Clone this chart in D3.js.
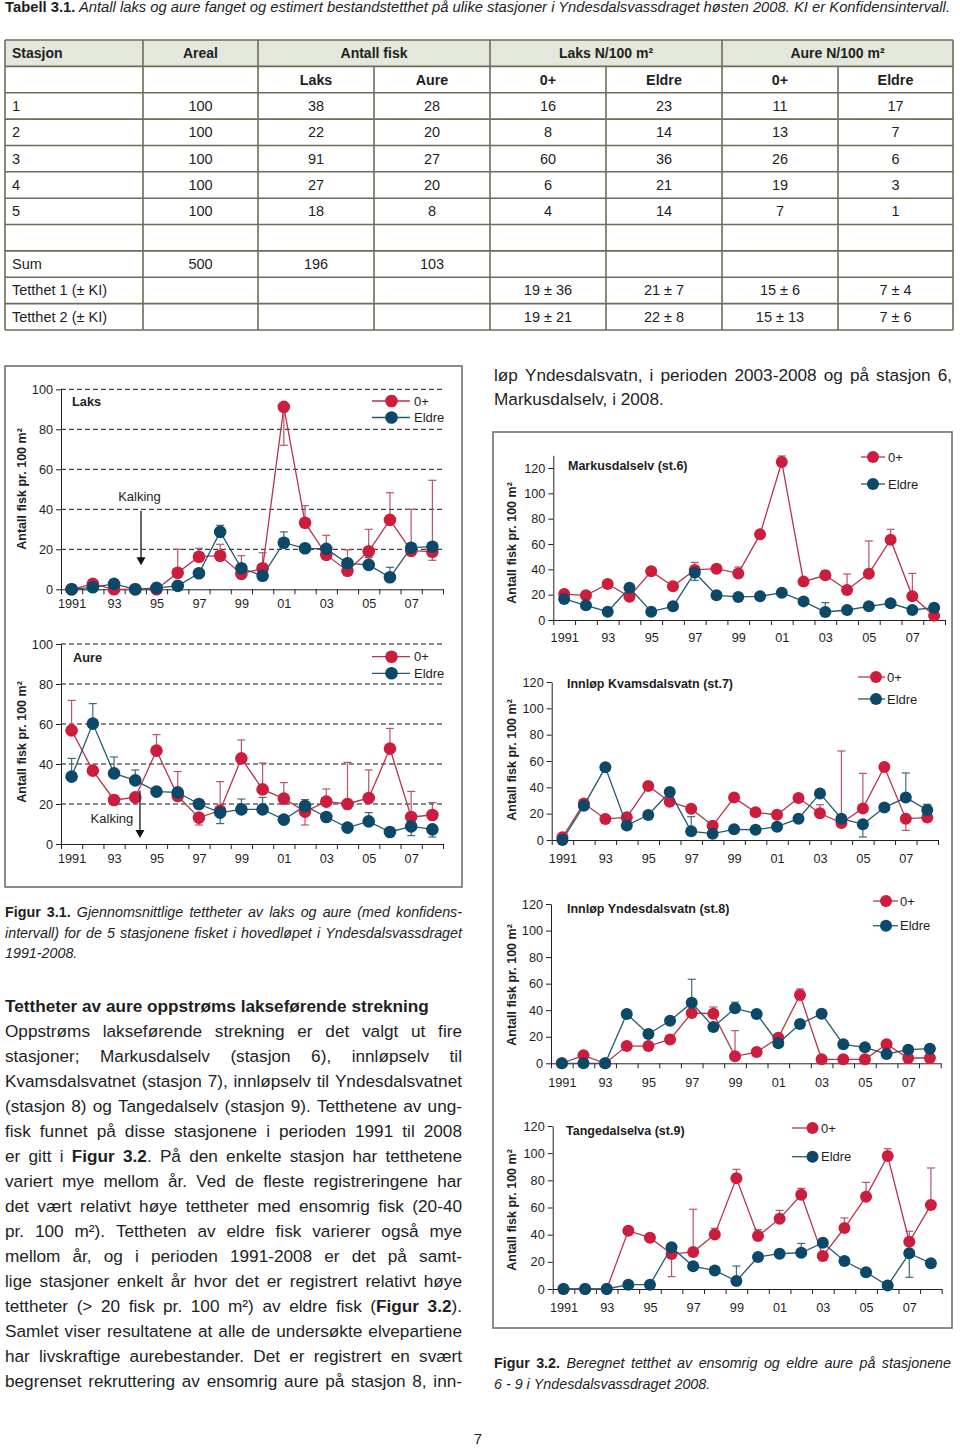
<!DOCTYPE html>
<html><head><meta charset="utf-8">
<script src="https://cdn.jsdelivr.net/npm/d3@7"></script>
<style>
body{margin:0;background:#fff}
svg{display:block}
text{font-family:"Liberation Sans",Arial,Helvetica,sans-serif;fill:#1e1e1e}
</style>
</head><body>
<svg id="page" width="960" height="1448"></svg>
<script>
// ---------------- DATA ----------------
const years = [1991,1992,1993,1994,1995,1996,1997,1998,1999,2000,2001,2002,2003,2004,2005,2006,2007,2008];
const xLabelYears = [1991,1993,1995,1997,1999,2001,2003,2005,2007];
const xLabels = ["1991","93","95","97","99","01","03","05","07"];
const yTicksLeft = [0,20,40,60,80,100];
const yTicksRight = [0,20,40,60,80,100,120];
const seriesNames = ["0+","Eldre"];

// Figur 3.1 – Laks
const laksYngre = [0,2.7,0,0,0,8.3,16.3,16.8,7.7,10.5,91.2,33.3,17.2,9.3,19,34.7,19.3,18.8];
const laksEldre = [0,1,2.7,0,0.7,1.7,8,28.7,10.5,6.8,23.3,20.5,20.2,13,12.2,6,20.8,21.3];
const laksYngreErr = [null,null,null,null,null,[8.3,20],[16.3,20.5],[16.8,22.5],[7.7,16.8],[10.5,18.3],[72,91.2],[33.3,41.8],[17.2,27],[9.3,19.7],[19,30],[34.7,48.3],[17,40],[14.5,54.5]];
const laksEldreErr = [null,null,null,null,null,null,null,[28.7,32],null,null,[23.3,28.7],[20.5,22],null,[13,15],[12.2,15.8],[6,11],null,[21.3,22.5]];
// Figur 3.1 – Aure
const aureYngre = [56.8,36.7,22,23.3,46.7,24,13.2,16.7,42.8,27.3,22.7,16.2,21.2,20,23,47.7,13.5,14.5];
const aureEldre = [33.7,60.2,35.3,31.8,26.2,25.8,20,15.7,17.3,17.3,12.2,19,13.5,8.2,11.3,6,8.8,7.3];
const aureYngreErr = [[56.8,71.8],null,null,null,[46.7,54.7],[24,36.2],[9.5,13.2],[16.7,31.2],[42.8,52],[27.3,40.5],[22.7,30.7],[9.5,16.2],[21.2,27.5],[20,40.8],[23,37],[47.7,57.8],[13.5,26.3],[14.5,20.7]];
const aureEldreErr = [[33.7,42.8],[60.2,70.2],[35.3,43.5],[31.8,37],null,null,null,[10.2,15.7],[17.3,22.5],[17.3,23.3],null,[19,22.2],null,null,[11.3,15.7],null,[4.2,8.8],[3.5,7.3]];
// Figur 3.2 – st.6 Markusdalselv
const st6Yngre = [20.5,19.5,28.4,18.4,38.4,26.6,39.5,40.5,36.8,67.6,124.7,30.3,35.3,23.7,36.6,63.4,18.7,3.4];
const st6Eldre = [16.6,11.6,6.6,25.5,6.6,10.8,37.4,19.5,18.2,18.7,21.6,14.7,6.3,7.9,10.8,13.2,7.9,9.7];
const st6YngreErr = [null,null,null,null,null,null,[39.5,45.5],[40.5,42.6],[36.8,41.8],null,[124.7,129.5],null,[35.3,39],[23.7,36.3],[36.6,62.4],[63.4,71.6],[18.7,36.8],null];
const st6EldreErr = [null,null,null,null,null,null,[31.3,37.4],null,null,null,null,null,[6.3,13.7],null,null,null,null,null];
// st.7 Innløp Kvamsdalsvatn
const st7Yngre = [2,27.8,16,17.2,41,29.1,23.8,10.9,32.2,21,19.2,31.9,20.3,12.9,24,55.4,16.2,17];
const st7Eldre = [0,26.1,55.2,11.1,19,36.5,6.6,4.8,8.1,7.8,10.1,16.2,35.4,16.2,11.9,24.6,32.2,22.8];
const st7YngreErr = [null,null,null,null,null,null,null,null,null,null,null,null,[20.3,26.8],[12.9,67.6],[24,50.6],[55.4,58],[7.3,16.2],null];
const st7EldreErr = [null,null,null,null,null,null,[6.6,17.7],null,null,null,null,null,null,null,[2.3,11.9],null,[32.2,50.9],[22.8,27.1]];
// st.8 Innløp Yndesdalsvatn
const st8Yngre = [0,6,0,13,13,18,37.9,37.4,5.3,8.5,19.3,51.5,3,3,3,14.3,4,4];
const st8Eldre = [0,0,0,37.2,22.1,32.1,45.7,27.4,41.4,37.2,15.1,29.6,37.4,14.3,12,7,10.3,11];
const st8YngreErr = [null,null,null,null,null,null,null,[37.4,42.4],[5.3,24.6],null,null,[51.5,56],null,null,null,null,null,null];
const st8EldreErr = [null,null,null,null,null,null,[45.7,63.3],null,[41.4,46],null,null,null,null,null,null,null,null,null];
// st.9 Tangedalselva
const st9Yngre = [0,0,0,42.9,37.8,25.8,27.2,40.2,81.5,39,51.8,69.4,24.3,44.9,68,97.9,34.8,61.8];
const st9Eldre = [0,0,0,3.2,3.2,30.7,16.7,13.7,5.9,23.6,26,26.7,34.1,20.6,12.3,2.5,26.3,18.9];
const st9YngreErr = [null,null,null,null,null,[9.1,25.8],[27.2,58.7],[40.2,44.7],[81.5,88.1],[39,43.7],[51.8,57.9],[69.4,74.1],[20.9,24.3],[44.9,52.3],[68,78.5],[97.9,103.3],[34.8,42.5],[61.8,89.1]];
const st9EldreErr = [null,null,null,null,null,null,null,[13.7,16.4],[5.9,16.9],null,null,[26.7,33.6],null,null,null,null,[8.6,26.3],null];

// Tabell 3.1
const tabHead1 = ["Stasjon","Areal","Antall fisk","Laks N/100 m²","Aure N/100 m²"];
const tabHead2 = ["","","Laks","Aure","0+","Eldre","0+","Eldre"];
const tabStasjon = ["1","2","3","4","5","","Sum","Tetthet 1 (± KI)","Tetthet 2 (± KI)"];
const tabAreal = ["100","100","100","100","100","","500","",""];
const tabAntLaks = ["38","22","91","27","18","","196","",""];
const tabAntAure = ["28","20","27","20","8","","103","",""];
const tabLaks0 = ["16","8","60","6","4","","","19 ± 36","19 ± 21"];
const tabLaksEldre = ["23","14","36","21","14","","","21 ± 7","22 ± 8"];
const tabAure0 = ["11","13","26","19","7","","","15 ± 6","15 ± 13"];
const tabAureEldre = ["17","7","6","3","1","","","7 ± 4","7 ± 6"];

// Texts
const tableTitle = "**Tabell 3.1.** Antall laks og aure fanget og estimert bestandstetthet på ulike stasjoner i Yndesdalsvassdraget høsten 2008. KI er Konfidensintervall.";
const fig31Caption = ["**Figur 3.1.** Gjennomsnittlige tettheter av laks og aure (med konfidens-","intervall) for de 5 stasjonene fisket i hovedløpet i Yndesdalsvassdraget","1991-2008."];
const fig32Caption = ["**Figur 3.2.** Beregnet tetthet av ensomrig og eldre aure på stasjonene","6 - 9 i Yndesdalsvassdraget 2008."];
const heading = "Tettheter av aure oppstrøms lakseførende strekning";
const bodyLeft = [
 "Oppstrøms lakseførende strekning er det valgt ut fire",
 "stasjoner; Markusdalselv (stasjon 6), innløpselv til",
 "Kvamsdalsvatnet (stasjon 7), innløpselv til Yndesdalsvatnet",
 "(stasjon 8) og Tangedalselv (stasjon 9). Tetthetene av ung-",
 "fisk funnet på disse stasjonene i perioden 1991 til 2008",
 "er gitt i **Figur 3.2**. På den enkelte stasjon har tetthetene",
 "variert mye mellom år. Ved de fleste registreringene har",
 "det vært relativt høye tettheter med ensomrig fisk (20-40",
 "pr. 100 m²). Tettheten av eldre fisk varierer også mye",
 "mellom år, og i perioden 1991-2008 er det på samt-",
 "lige stasjoner enkelt år hvor det er registrert relativt høye",
 "tettheter (> 20 fisk pr. 100 m²) av eldre fisk (**Figur 3.2**).",
 "Samlet viser resultatene at alle de undersøkte elvepartiene",
 "har livskraftige aurebestander. Det er registrert en svært",
 "begrenset rekruttering av ensomrig aure på stasjon 8, inn-"
];
const bodyRight = ["løp Yndesdalsvatn, i perioden 2003-2008 og på stasjon 6,","Markusdalselv, i 2008."];

// ---------------- DRAWING ----------------
const svg = d3.select("#page");
const RED = "#cc1d3d", RED_L = "#b8334f", RED_E = "#b9546b";
const BLUE = "#0c4867", BLUE_L = "#245a6d", BLUE_E = "#3c6b7c";
const AX = "#222";

function parseWords(line){
  const words=[]; let cur=[]; let buf=""; let bold=false;
  for(let i=0;i<line.length;i++){
    if(line.substr(i,2)==="**"){ if(buf){cur.push({t:buf,b:bold});buf="";} bold=!bold; i++; continue; }
    const ch=line[i];
    if(ch===" "){ if(buf){cur.push({t:buf,b:bold});buf="";} if(cur.length){words.push(cur);cur=[];} continue; }
    buf+=ch;
  }
  if(buf) cur.push({t:buf,b:bold});
  if(cur.length) words.push(cur);
  return words;
}
function textLine(g, line, o){
  const words=parseWords(line);
  const els=words.map(w=>{
    const t=g.append("text").attr("y",o.y).attr("font-size",o.size);
    w.forEach(s=>t.append("tspan").text(s.t)
      .attr("font-weight",(s.b||o.bold)?"bold":"normal")
      .attr("font-style",s.b?"normal":(o.italic?"italic":"normal")));
    return t;
  });
  const widths=els.map(t=>t.node().getComputedTextLength());
  const total=d3.sum(widths);
  const sp=o.size*0.278;
  let gap=sp;
  if(o.justify && words.length>1) gap=(o.x1-o.x0-total)/(words.length-1);
  let x=o.x0;
  els.forEach((t,i)=>{t.attr("x",x); x+=widths[i]+gap;});
}

// Table title (fitted to width)
(function(){
  const words=parseWords(tableTitle);
  const t=svg.append("text").attr("x",5).attr("y",12).attr("font-size",14.2)
    .attr("textLength",945).attr("lengthAdjust","spacingAndGlyphs");
  words.forEach((w,i)=>{ w.forEach((s,j)=>{
    t.append("tspan").text((i>0&&j===0?" ":"")+s.t)
     .attr("font-weight",s.b?"bold":"normal").attr("font-style",s.b?"normal":"italic");
  });});
})();

// Table
(function(){
  const colX=[5,143,258,374,490,606,722,838,953];
  const y0=40, rh=290/11;
  const g=svg.append("g");
  g.append("rect").attr("x",colX[0]).attr("y",y0).attr("width",colX[8]-colX[0]).attr("height",rh).attr("fill","#e3e7dc");
  const ln="#6c6c5a";
  for(let r=0;r<=11;r++) g.append("line").attr("x1",colX[0]).attr("x2",colX[8]).attr("y1",y0+r*rh).attr("y2",y0+r*rh).attr("stroke",ln).attr("stroke-width",1.6);
  [0,1,2,4,6,8].forEach(c=>g.append("line").attr("x1",colX[c]).attr("x2",colX[c]).attr("y1",y0).attr("y2",y0+11*rh).attr("stroke",ln).attr("stroke-width",1.6));
  [3,5,7].forEach(c=>g.append("line").attr("x1",colX[c]).attr("x2",colX[c]).attr("y1",y0+rh).attr("y2",y0+11*rh).attr("stroke",ln).attr("stroke-width",1.6));
  const spans=[[0,1],[1,2],[2,4],[4,6],[6,8]];
  tabHead1.forEach((h,i)=>{
    const [a,b]=spans[i];
    g.append("text").attr("x",i===0?12:(colX[a]+colX[b])/2).attr("y",y0+rh/2+5)
     .attr("text-anchor",i===0?"start":"middle").attr("font-weight","bold").attr("font-size",14).text(h);
  });
  tabHead2.forEach((h,i)=>{ if(!h) return;
    g.append("text").attr("x",(colX[i]+colX[i+1])/2).attr("y",y0+1.5*rh+5)
     .attr("text-anchor","middle").attr("font-weight","bold").attr("font-size",14.3).text(h);
  });
  const cols=[tabStasjon,tabAreal,tabAntLaks,tabAntAure,tabLaks0,tabLaksEldre,tabAure0,tabAureEldre];
  cols.forEach((col,ci)=>col.forEach((v,ri)=>{ if(!v) return;
    g.append("text").attr("x",ci===0?12:(colX[ci]+colX[ci+1])/2).attr("y",y0+(ri+2.5)*rh+5)
     .attr("text-anchor",ci===0?"start":"middle").attr("font-size",14.5).text(v);
  }));
})();

// Figure boxes
svg.append("rect").attr("x",5).attr("y",366).attr("width",457).attr("height",521).attr("fill","none").attr("stroke","#707070").attr("stroke-width",1.6);
svg.append("rect").attr("x",493).attr("y",432).attr("width",459).attr("height",896).attr("fill","none").attr("stroke","#707070").attr("stroke-width",1.6);

function chart(c){
  const g=svg.append("g");
  const xs=d3.scaleLinear().domain([years[0]-0.5,years[years.length-1]+0.5]).range([c.x0,c.x1]);
  const y=d3.scaleLinear().domain([0,c.ymax]).range([c.y0,c.yTopPx]);
  if(c.grid){
    g.selectAll(".grid").data(c.yticks.filter(d=>d>0)).join("line")
     .attr("x1",c.x0).attr("x2",c.x1).attr("y1",d=>y(d)).attr("y2",d=>y(d))
     .attr("stroke","#111").attr("stroke-width",1).attr("stroke-dasharray","5,3");
  }
  const ya=g.append("g").attr("transform",`translate(${c.x0},0)`)
    .call(d3.axisLeft(y).tickValues(c.yticks).tickSize(5).tickPadding(c.yPad).tickSizeOuter(0));
  ya.attr("color",AX).attr("font-size",c.fs).attr("font-family",null);
  ya.selectAll("text").style("fill","#1e1e1e");
  const halfTicks=years.map(d=>d-0.5).concat([years[years.length-1]+0.5]);
  const xa=g.append("g").attr("transform",`translate(0,${c.y0})`)
    .call(d3.axisBottom(xs).tickValues(halfTicks).tickSize(5).tickSizeOuter(0).tickFormat(""));
  xa.attr("color",AX);
  const xl=g.append("g").attr("transform",`translate(0,${c.y0})`)
    .call(d3.axisBottom(xs).tickValues(xLabelYears).tickSize(0).tickPadding(c.xPad).tickFormat((d,i)=>xLabels[i]));
  xl.select(".domain").remove();
  xl.attr("font-size",c.fs).attr("font-family",null);
  xl.selectAll("text").style("fill","#1e1e1e");

  // y title
  g.append("text").attr("transform",`translate(${c.ytX},${c.ytY}) rotate(-90)`).attr("text-anchor","middle")
   .attr("dy","0.35em").attr("font-weight","bold").attr("font-size",12.5)
   .text("Antall fisk pr. 100 m²");
  // chart title
  g.append("text").attr("x",c.tX).attr("y",c.tY).attr("font-weight","bold").attr("font-size",c.tfs).text(c.title);

  const line=d3.line().x(d=>xs(d.year)).y(d=>y(d.v));
  const sets=[{vals:c.s0,err:c.e0,col:RED,lc:RED_L,ec:RED_E},{vals:c.s1,err:c.e1,col:BLUE,lc:BLUE_L,ec:BLUE_E}];
  sets.forEach(s=>{
    const pts=years.map((yr,i)=>({year:yr,v:s.vals[i],e:s.err[i]}));
    const eg=g.append("g").attr("stroke",s.ec).attr("stroke-width",1.2);
    pts.filter(p=>p.e).forEach(p=>{
      const x=xs(p.year);
      eg.append("line").attr("x1",x).attr("x2",x).attr("y1",y(p.e[0])).attr("y2",y(p.e[1]));
      eg.append("line").attr("x1",x-4).attr("x2",x+4).attr("y1",y(p.e[0])).attr("y2",y(p.e[0]));
      eg.append("line").attr("x1",x-4).attr("x2",x+4).attr("y1",y(p.e[1])).attr("y2",y(p.e[1]));
    });
    g.append("path").datum(pts).attr("d",line).attr("fill","none").attr("stroke",s.lc).attr("stroke-width",1.3);
    g.selectAll(null).data(pts).join("circle").attr("cx",p=>xs(p.year)).attr("cy",p=>y(p.v)).attr("r",c.r).attr("fill",s.col);
  });
  // legend
  const L=c.leg;
  [[L.y1,RED_L,RED,seriesNames[0]],[L.y2,BLUE_L,BLUE,seriesNames[1]]].forEach(([ly,lc,mc,name])=>{
    g.append("line").attr("x1",L.lx0).attr("x2",L.lx1).attr("y1",ly).attr("y2",ly).attr("stroke",lc).attr("stroke-width",1.3);
    g.append("circle").attr("cx",L.mx).attr("cy",ly).attr("r",c.r).attr("fill",mc);
    g.append("text").attr("x",L.tx).attr("y",ly).attr("dy","0.36em").attr("font-size",c.fs+0.3).text(name);
  });
  // Kalking annotation
  if(c.kalk){
    const k=c.kalk, ax=xs(k.year);
    g.append("text").attr("x",xs(k.textYear)).attr("y",y(k.textV)).attr("text-anchor","middle").attr("font-size",c.fs+0.3).text("Kalking");
    const tip=y(k.v1);
    g.append("line").attr("x1",ax).attr("x2",ax).attr("y1",y(k.v0)).attr("y2",tip-6).attr("stroke","#333").attr("stroke-width",1.5);
    g.append("path").attr("d",`M${ax-4.5},${tip-8}L${ax+4.5},${tip-8}L${ax},${tip}Z`).attr("fill","#111");
  }
}

chart({x0:61,x1:443,y0:589.3,yTopPx:389.3,ymax:100,yticks:yTicksLeft,grid:true,fs:12.7,yPad:3,xPad:10,r:6.3,
  ytX:22,ytY:489,title:"Laks",tX:72,tY:406,tfs:12.8,s0:laksYngre,s1:laksEldre,e0:laksYngreErr,e1:laksEldreErr,
  leg:{lx0:372,lx1:410,mx:391.5,tx:414,y1:401,y2:417.5},
  kalk:{year:1994.27,textYear:1994.2,textV:44,v0:39.3,v1:12}});
chart({x0:61,x1:443,y0:844,yTopPx:644,ymax:100,yticks:yTicksLeft,grid:true,fs:12.7,yPad:3,xPad:10,r:6.3,
  ytX:22,ytY:742,title:"Aure",tX:73,tY:662,tfs:12.8,s0:aureYngre,s1:aureEldre,e0:aureYngreErr,e1:aureEldreErr,
  leg:{lx0:372,lx1:410,mx:391.5,tx:414,y1:656.7,y2:673.3},
  kalk:{year:1994.22,textYear:1992.9,textV:10.5,v0:26.6,v1:3}});
chart({x0:553.3,x1:945,y0:620,yTopPx:620-130*152/120,ymax:130,yticks:yTicksRight,grid:false,fs:12.7,yPad:3,xPad:13,r:6,
  ytX:512,ytY:543,title:"Markusdalselv (st.6)",tX:568,tY:470,tfs:12.5,s0:st6Yngre,s1:st6Eldre,e0:st6YngreErr,e1:st6EldreErr,
  leg:{lx0:861,lx1:885,mx:873,tx:888,y1:457,y2:484}});
chart({x0:551.7,x1:938,y0:840,yTopPx:682,ymax:120,yticks:yTicksRight,grid:false,fs:12.7,yPad:3,xPad:14,r:6,
  ytX:512,ytY:760,title:"Innløp Kvamsdalsvatn (st.7)",tX:567,tY:688,tfs:12.5,s0:st7Yngre,s1:st7Eldre,e0:st7YngreErr,e1:st7EldreErr,
  leg:{lx0:858,lx1:885,mx:876,tx:887,y1:677,y2:699}});
chart({x0:551,x1:940.7,y0:1063.3,yTopPx:904,ymax:120,yticks:yTicksRight,grid:false,fs:12.7,yPad:3,xPad:15,r:6,
  ytX:512,ytY:985,title:"Innløp Yndesdalsvatn (st.8)",tX:567,tY:913,tfs:12.5,s0:st8Yngre,s1:st8Eldre,e0:st8YngreErr,e1:st8EldreErr,
  leg:{lx0:873,lx1:898,mx:886,tx:900,y1:901,y2:925.7}});
chart({x0:552.7,x1:941.7,y0:1289,yTopPx:1126,ymax:120,yticks:yTicksRight,grid:false,fs:12.7,yPad:3,xPad:14,r:6,
  ytX:512,ytY:1210,title:"Tangedalselva (st.9)",tX:566,tY:1135,tfs:12.5,s0:st9Yngre,s1:st9Eldre,e0:st9YngreErr,e1:st9EldreErr,
  leg:{lx0:792,lx1:818,mx:812.5,tx:821,y1:1128,y2:1156.7}});

// Captions & body text
const tg=svg.append("g");
fig31Caption.forEach((l,i)=>textLine(tg,l,{x0:5,x1:462,y:917+i*20.5,size:14.3,italic:true,justify:i<2}));
textLine(tg,heading,{x0:5,x1:462,y:1012,size:17.2,bold:true,justify:false});
bodyLeft.forEach((l,i)=>textLine(tg,l,{x0:5,x1:462,y:1037+i*25,size:17.2,justify:true}));
bodyRight.forEach((l,i)=>textLine(tg,l,{x0:494,x1:952,y:381+i*24,size:17.2,justify:i===0}));
fig32Caption.forEach((l,i)=>textLine(tg,l,{x0:494,x1:951,y:1368+i*21,size:14.3,italic:true,justify:i===0}));
svg.append("text").attr("x",478).attr("y",1444).attr("text-anchor","middle").attr("font-size",15).text("7");
</script>
</body></html>
